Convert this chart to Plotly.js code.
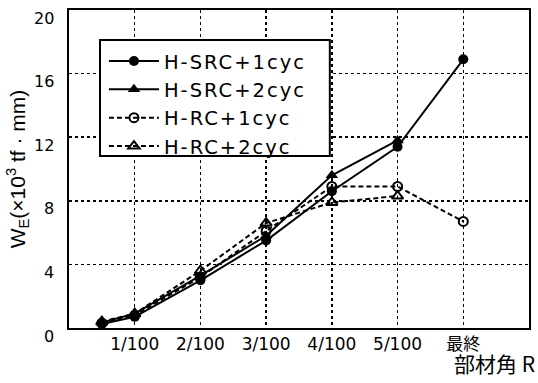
<!DOCTYPE html>
<html>
<head>
<meta charset="utf-8">
<script src="https://cdn.plot.ly/plotly-3.0.1.min.js"></script>
<style>
  html, body { margin: 0; padding: 0; background: #fff; }
  #chart { width: 538px; height: 383px; }
  .legendtext { letter-spacing: 2px; }
</style>
</head>
<body>
<div id="chart"></div>
<script>
// Drift-angle steps (x position in units of 1/100) and their labels
const stepPos = [0.5, 1, 2, 3, 4, 5, 6];
const tickPos = [1, 2, 3, 4, 5, 6];
const tickText = ['1/100', '2/100', '3/100', '4/100', '5/100', '最終'];
const yTicks = [0, 4, 8, 12, 16, 20];

// Energy absorption W_E (×10^3 tf·mm)
const src1 = [0.25, 0.7, 3.0, 5.5, 8.6, 11.4, 16.9];
const src2 = [0.35, 0.9, 3.3, 5.8, 9.6, 11.8, null];
const rc1  = [0.3, 0.8, 3.2, 6.1, 8.9, 8.9, 6.7];
const rc2  = [0.4, 0.9, 3.6, 6.6, 7.9, 8.3, null];

const names = ['H-SRC+1cyc', 'H-SRC+2cyc', 'H-RC+1cyc', 'H-RC+2cyc'];

const wide = 'DejaVu Sans, Noto Sans CJK JP, sans-serif';
const narrow = 'Liberation Sans, Arial, sans-serif';

const traces = [
  { x: stepPos, y: src1, name: names[0], mode: 'lines+markers',
    line: { color: '#000', width: 2 },
    marker: { symbol: 'circle', size: 10, color: '#000' } },
  { x: stepPos, y: src2, name: names[1], mode: 'lines+markers',
    line: { color: '#000', width: 2 },
    marker: { symbol: 'triangle-up', size: 11, color: '#000' } },
  { x: stepPos, y: rc1, name: names[2], mode: 'lines+markers',
    line: { color: '#000', width: 2, dash: '5px,3px' },
    marker: { symbol: 'circle-open', size: 9, color: '#000', line: { width: 2 } } },
  { x: stepPos, y: rc2, name: names[3], mode: 'lines+markers',
    line: { color: '#000', width: 2, dash: '5px,3px' },
    marker: { symbol: 'triangle-up-open', size: 10, color: '#000', line: { width: 2 } } }
].map(t => Object.assign(t, { connectgaps: false, cliponaxis: false }));

// y tick labels sit slightly below their grid lines
const yLabels = yTicks.map(v => ({
  x: 0, xref: 'paper', xanchor: 'right', xshift: -13,
  y: v, yref: 'y', yanchor: 'middle', yshift: -8,
  text: String(v), showarrow: false,
  font: { family: wide, size: 16, color: '#000' }
}));

const layout = {
  width: 538, height: 383,
  margin: { l: 69, r: 9, t: 10, b: 55 },
  paper_bgcolor: '#fff', plot_bgcolor: '#fff',
  showlegend: true,
  legend: {
    x: 0.076, y: 0.9, xanchor: 'left', yanchor: 'top',
    bgcolor: 'rgba(0,0,0,0)', borderwidth: 0,
    font: { family: wide, size: 19.5, color: '#000' },
    itemwidth: 50, tracegroupgap: 0
  },
  // framed white box behind the legend entries
  shapes: [{
    type: 'rect', xref: 'paper', yref: 'paper', layer: 'above',
    x0: 0.0674, x1: 0.567, y0: 0.541, y1: 0.906,
    line: { color: '#000', width: 2 }, fillcolor: '#fff'
  }],
  xaxis: {
    range: [0, 7], tickvals: tickPos, ticktext: tickText,
    showgrid: true, gridcolor: '#000', gridwidth: 1.5, griddash: 'dot',
    showline: true, linecolor: '#000', linewidth: 2, mirror: true,
    ticks: '', zeroline: false,
    tickfont: { family: wide, size: 17, color: '#000' }
  },
  yaxis: {
    range: [0, 20], tickvals: yTicks, showticklabels: false,
    showgrid: true, gridcolor: '#000', gridwidth: 1.5, griddash: 'dot',
    showline: true, linecolor: '#000', linewidth: 2, mirror: true,
    ticks: '', zeroline: false,
    title: { text: 'W<sub>E</sub>(×10<sup>3</sup> tf · mm)', standoff: 36,
             font: { family: narrow, size: 21, color: '#000' } }
  },
  annotations: yLabels.concat([{
    x: 1.015, xref: 'paper', xanchor: 'right',
    y: 0, yref: 'paper', yanchor: 'middle', yshift: -35, borderpad: 0,
    text: '部材角 R', showarrow: false,
    font: { family: 'Noto Sans CJK JP, sans-serif', size: 21, color: '#000' }
  }])
};

Plotly.newPlot('chart', traces, layout, { displayModeBar: false, staticPlot: true });
</script>
</body>
</html>
